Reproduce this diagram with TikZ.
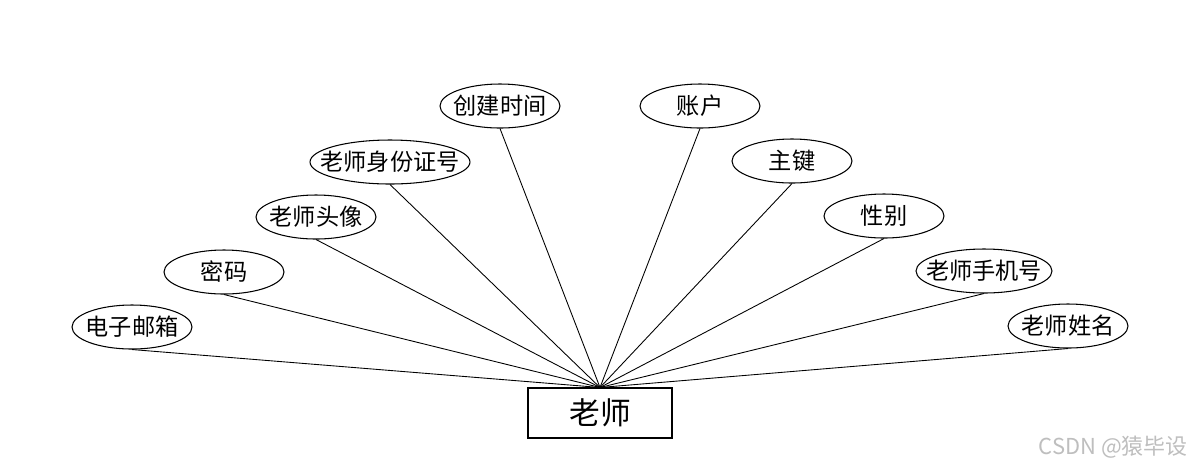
\documentclass[tikz,border=0pt]{standalone}
\usepackage{fontspec}
\setmainfont{Noto Sans CJK SC}
\usetikzlibrary{shapes.geometric}

% text that does not widen its ellipse
\newcommand{\attrtext}[1]{\makebox[0pt]{#1}}

\tikzset{
  attr/.style={ellipse, draw=black, line width=0.6pt, inner sep=0pt,
    minimum width=2.4cm, minimum height=0.88cm, font=\fontsize{13.2}{15}\selectfont},
  entity/.style={rectangle, draw=black, line width=0.6pt, inner sep=0pt,
    minimum width=2.88cm, minimum height=1cm, font=\fontsize{17.5}{20}\selectfont},
  link/.style={draw=black, line width=0.5pt},
}

\begin{document}
\begin{tikzpicture}[x=0.02cm, y=-0.02cm]

\definecolor{markgray}{RGB}{190,190,190}

% canvas in pixels of the reference
\useasboundingbox (0,0) rectangle (1200,468);

% ---------------- entity ----------------
\node[entity] (teacher) at (600,413) {老师};

% ---------------- attributes, left side ----------------
\node[attr] (email)  at (132,327) {\attrtext{电子邮箱}};
\node[attr] (pwd)    at (224,272) {\attrtext{密码}};
\node[attr] (avatar) at (316,217) {\attrtext{老师头像}};
\node[attr, minimum width=3.2cm] (idno) at (390,162) {\attrtext{老师身份证号}};
\node[attr] (ctime)  at (500,106) {\attrtext{创建时间}};

% ---------------- attributes, right side ----------------
\node[attr] (acct)   at (700,106) {\attrtext{账户}};
\node[attr] (pkey)   at (792,161) {\attrtext{主键}};
\node[attr] (gender) at (884,216) {\attrtext{性别}};
\node[attr, minimum width=2.72cm] (phone) at (984,271) {\attrtext{老师手机号}};
\node[attr] (tname)  at (1068,326) {\attrtext{老师姓名}};

% ---------------- connectors ----------------
\foreach \a in {email,pwd,avatar,idno,ctime,acct,pkey,gender,phone,tname}
  \draw[link] (\a.south) -- (teacher.north);

% watermark
\node[text=markgray, font=\fontsize{12.5}{14}\selectfont, anchor=east] (mark)
  at (1194,447) {CSDN @猿毕设};

\end{tikzpicture}
\end{document}
